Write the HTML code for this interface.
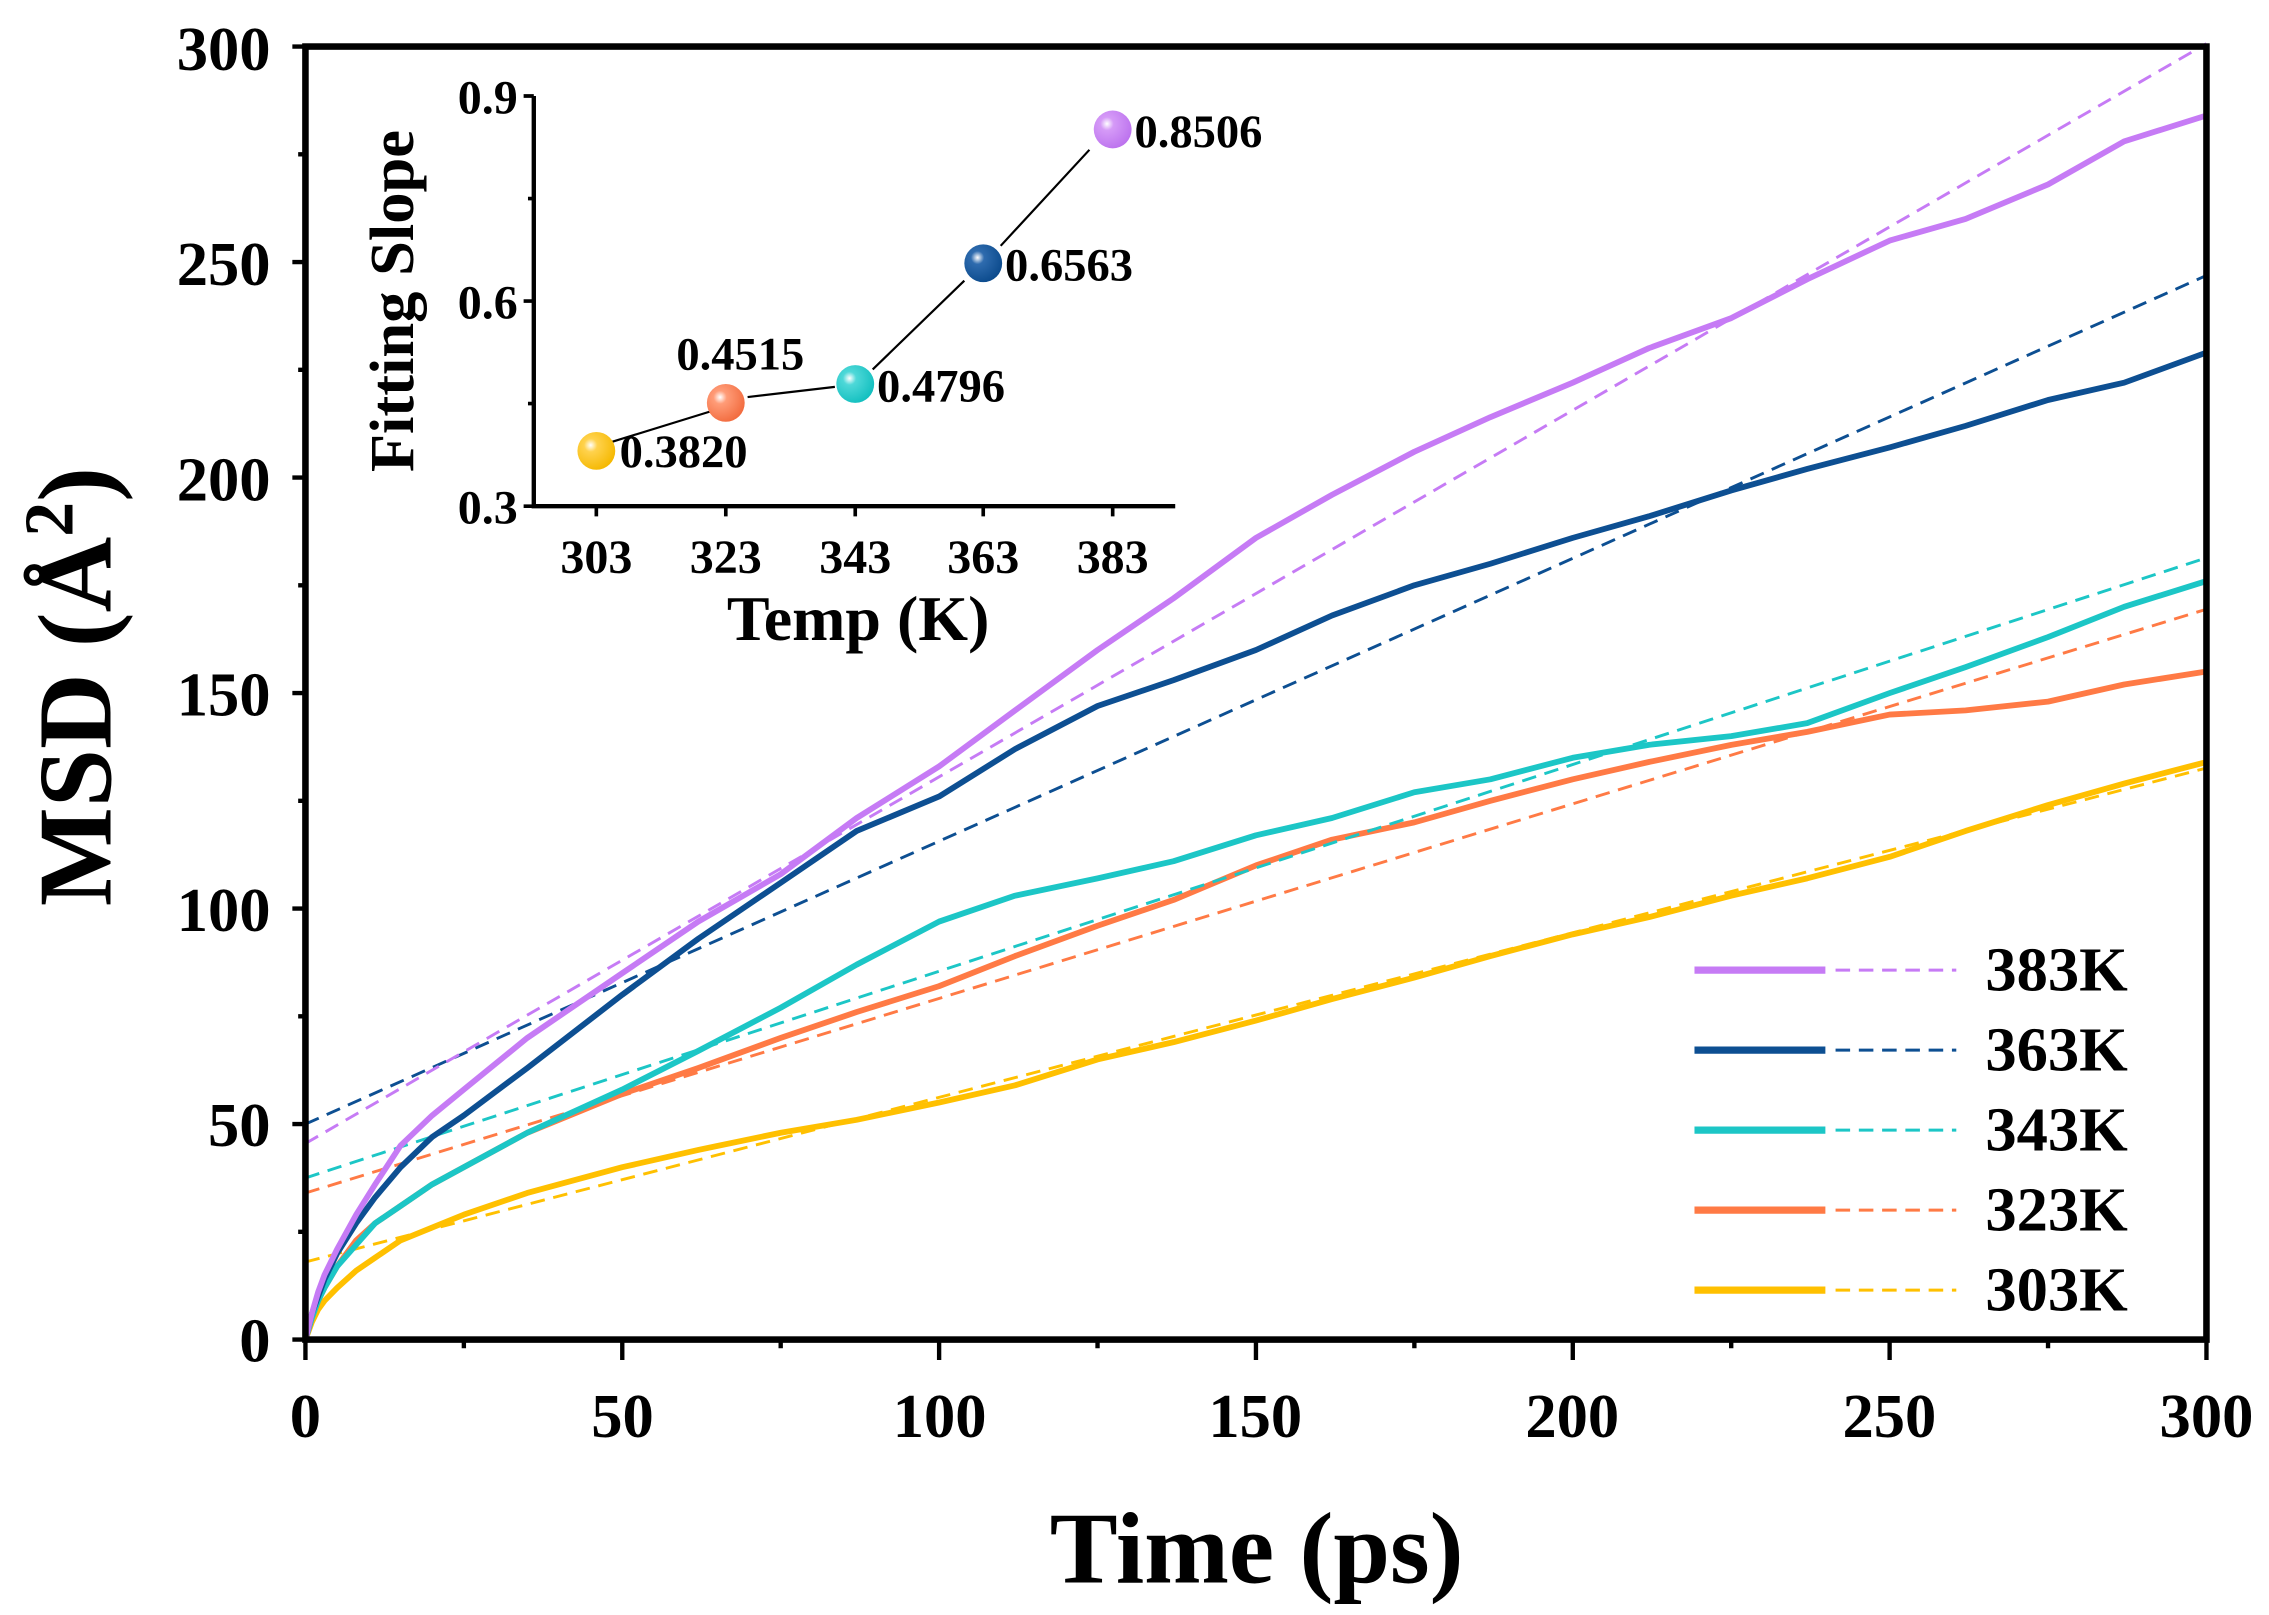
<!DOCTYPE html>
<html><head><meta charset="utf-8"><style>
html,body{margin:0;padding:0;background:#fff;}
svg{display:block;}
text{font-family:"Liberation Serif",serif;font-weight:bold;fill:#000;}
</style></head><body>
<svg id="s" width="2269" height="1615" viewBox="0 0 1560 1110.36" preserveAspectRatio="none" xmlns="http://www.w3.org/2000/svg">
<rect width="1560" height="1111" fill="#fff"/>
<g id="curves"></g>
<g stroke="#000" stroke-width="4.5" fill="none">
<rect x="210" y="32" width="1307" height="889"/>
</g>
<g id="ticks" stroke="#000" stroke-width="3"></g>
<g font-size="43" text-anchor="end">
<text x="186" y="936">0</text>
<text x="186" y="788">50</text>
<text x="186" y="640">100</text>
<text x="186" y="492">150</text>
<text x="186" y="344">200</text>
<text x="186" y="196">250</text>
<text x="186" y="48">300</text>
</g>
<g font-size="43" text-anchor="middle">
<text x="210" y="988">0</text>
<text x="428" y="988">50</text>
<text x="646" y="988">100</text>
<text x="863" y="988">150</text>
<text x="1081" y="988">200</text>
<text x="1299" y="988">250</text>
<text x="1517" y="988">300</text>
</g>
<text x="864" y="1088" font-size="70" text-anchor="middle">Time (ps)</text>
<text transform="translate(76,472) rotate(-90)" font-size="72" text-anchor="middle">MSD (Å<tspan dy="-26" font-size="48">2</tspan><tspan dy="26">)</tspan></text>
<g id="legend"></g>
<g font-size="43">
<text x="1365" y="681">383K</text>
<text x="1365" y="736">363K</text>
<text x="1365" y="791">343K</text>
<text x="1365" y="846">323K</text>
<text x="1365" y="901">303K</text>
</g>
<g stroke="#000" fill="none">
<path d="M367,66 V348 H808" stroke-width="3"/>
<path d="M367,66 h-7 M367,207 h-7 M367,348 h-7 M367,136.5 h-4 M367,277.5 h-4" stroke-width="2.5"/>
<path d="M410,348 v7 M499,348 v7 M588,348 v7 M676,348 v7 M765,348 v7" stroke-width="2.5"/>
<path d="M420,304 L488,283 M514,273 L574,266 M600,254 L663,193 M688,169 L749,103" stroke-width="1.5"/>
</g>
<g font-size="33" text-anchor="end">
<text x="356" y="78">0.9</text>
<text x="356" y="219">0.6</text>
<text x="356" y="360">0.3</text>
</g>
<g font-size="33" text-anchor="middle">
<text x="410" y="394">303</text>
<text x="499" y="394">323</text>
<text x="588" y="394">343</text>
<text x="676" y="394">363</text>
<text x="765" y="394">383</text>
</g>
<text x="590" y="440" font-size="44" text-anchor="middle">Temp (K)</text>
<text transform="translate(284,207) rotate(-90)" font-size="43" text-anchor="middle">Fitting Slope</text>
<defs>
<radialGradient id="gy" cx="0.35" cy="0.35" r="0.7"><stop offset="0" stop-color="#fff"/><stop offset="0.25" stop-color="#FFD24D"/><stop offset="1" stop-color="#F5B800"/></radialGradient>
<radialGradient id="go" cx="0.35" cy="0.35" r="0.7"><stop offset="0" stop-color="#fff"/><stop offset="0.25" stop-color="#FF9C78"/><stop offset="1" stop-color="#F26B3E"/></radialGradient>
<radialGradient id="gc" cx="0.35" cy="0.35" r="0.7"><stop offset="0" stop-color="#fff"/><stop offset="0.25" stop-color="#4ED8D8"/><stop offset="1" stop-color="#12BFBF"/></radialGradient>
<radialGradient id="gb" cx="0.35" cy="0.35" r="0.7"><stop offset="0" stop-color="#fff"/><stop offset="0.25" stop-color="#2E6BAE"/><stop offset="1" stop-color="#0B4A8C"/></radialGradient>
<radialGradient id="gp" cx="0.35" cy="0.35" r="0.7"><stop offset="0" stop-color="#fff"/><stop offset="0.25" stop-color="#D59AF7"/><stop offset="1" stop-color="#BC72EE"/></radialGradient>
</defs>
<circle cx="410" cy="310" r="13" fill="url(#gy)"/>
<circle cx="499" cy="277" r="13" fill="url(#go)"/>
<circle cx="588" cy="264" r="13" fill="url(#gc)"/>
<circle cx="676" cy="181" r="13" fill="url(#gb)"/>
<circle cx="765" cy="89" r="13" fill="url(#gp)"/>
<g font-size="32">
<text x="426" y="321">0.3820</text>
<text x="465" y="254">0.4515</text>
<text x="603" y="276">0.4796</text>
<text x="691" y="193">0.6563</text>
<text x="780" y="101">0.8506</text>
</g>
</svg>
<script>
var NS="http://www.w3.org/2000/svg";
function X(t){return 210+t*1307/300;}
function Y(v){return 921-v*889/300;}
var ts=[0,1,2,3,5,8,11,15,20,25,35,50,62,75,87,100,112,125,137,150,162,175,187,200,212,225,237,250,262,275,287,300];
var series=[
 {c:"#FFC000",a:18,b:0.382,v:[0,4,7,9,12,16,19,23,26,29,34,40,44,48,51,55,59,65,69,74,79,84,89,94,98,103,107,112,118,124,129,134]},
 {c:"#FF7A45",a:34,b:0.4515,v:[0,5,9,12,17,23,27,31,36,40,48,57,63,70,76,82,89,96,102,110,116,120,125,130,134,138,141,145,146,148,152,155]},
 {c:"#1CC6C6",a:37.5,b:0.4796,v:[0,5,9,12,17,22,27,31,36,40,48,58,67,77,87,97,103,107,111,117,121,127,130,135,138,140,143,150,156,163,170,176]},
 {c:"#0D4F92",a:50,b:0.6563,v:[0,6,10,14,20,27,33,40,47,52,63,80,93,106,118,126,137,147,153,160,168,175,180,186,191,197,202,207,212,218,222,229]},
 {c:"#C67BF5",a:45.5,b:0.8506,v:[0,6,11,15,21,29,36,45,52,58,70,85,97,108,121,133,146,160,172,186,196,206,214,222,230,237,246,255,260,268,278,284]}
];
var g=document.getElementById("curves");
series.forEach(function(s){
 var d="";
 for(var i=0;i<ts.length;i++){d+=(i?"L":"M")+X(ts[i]).toFixed(1)+","+Y(s.v[i]).toFixed(1);}
 var p=document.createElementNS(NS,"path");p.setAttribute("d",d);p.setAttribute("stroke",s.c);
 p.setAttribute("stroke-width","4");p.setAttribute("fill","none");p.setAttribute("stroke-linejoin","round");g.appendChild(p);
 var l=document.createElementNS(NS,"line");l.setAttribute("x1",X(0));l.setAttribute("y1",Y(s.a));
 l.setAttribute("x2",X(300));l.setAttribute("y2",Y(s.a+s.b*300));l.setAttribute("stroke",s.c);
 l.setAttribute("stroke-width","2");l.setAttribute("stroke-dasharray","10,6");g.appendChild(l);
});
var tk=document.getElementById("ticks"),d="";
for(var v=0;v<=300;v+=25){var y=Y(v);d+="M210,"+y+"h"+(v%50?-5:-9);}
for(var t=0;t<=300;t+=25){var x=X(t);d+="M"+x+",921v"+(t%50?6:14);}
var p=document.createElementNS(NS,"path");p.setAttribute("d",d);tk.appendChild(p);
var lg=document.getElementById("legend");
var cols=["#C67BF5","#0D4F92","#1CC6C6","#FF7A45","#FFC000"];
cols.forEach(function(c,i){var y=667+55*i;
 var a=document.createElementNS(NS,"line");a.setAttribute("x1",1165);a.setAttribute("x2",1255);a.setAttribute("y1",y);a.setAttribute("y2",y);a.setAttribute("stroke",c);a.setAttribute("stroke-width","5");lg.appendChild(a);
 var b=document.createElementNS(NS,"line");b.setAttribute("x1",1262);b.setAttribute("x2",1345);b.setAttribute("y1",y);b.setAttribute("y2",y);b.setAttribute("stroke",c);b.setAttribute("stroke-width","2");b.setAttribute("stroke-dasharray","10,6");lg.appendChild(b);
});
</script>
</body></html>
